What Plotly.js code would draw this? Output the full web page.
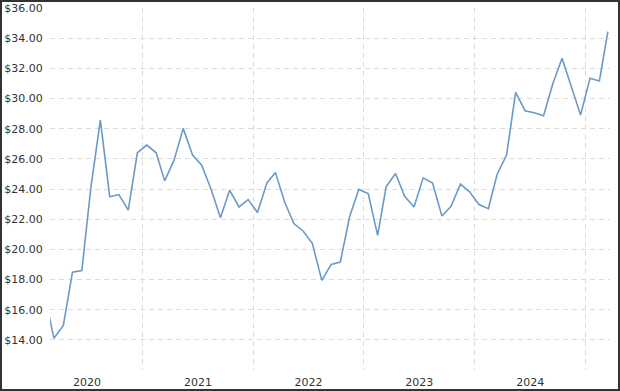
<!DOCTYPE html>
<html>
<head>
<meta charset="utf-8">
<script src="https://cdn.plot.ly/plotly-3.0.1.min.js"></script>
<style>
  html, body { margin: 0; padding: 0; background: #fff; }
  #wrap { position: relative; width: 620px; height: 391px; }
  #chart { width: 620px; height: 391px; }
  #frame { position: absolute; left: 0; top: 0; width: 620px; height: 391px; box-sizing: border-box; border: 2px solid #333333; pointer-events: none; }
</style>
</head>
<body>
<div id="wrap"><div id="chart"></div><div id="frame"></div></div>
<script>
// Monthly observations (mid-month)
const months = [
  '2020-02-15','2020-03-15','2020-04-15','2020-05-15','2020-06-15','2020-07-15','2020-08-15','2020-09-15','2020-10-15','2020-11-15','2020-12-15',
  '2021-01-15','2021-02-15','2021-03-15','2021-04-15','2021-05-15','2021-06-15','2021-07-15','2021-08-15','2021-09-15','2021-10-15','2021-11-15','2021-12-15',
  '2022-01-15','2022-02-15','2022-03-15','2022-04-15','2022-05-15','2022-06-15','2022-07-15','2022-08-15','2022-09-15','2022-10-15','2022-11-15','2022-12-15',
  '2023-01-15','2023-02-15','2023-03-15','2023-04-15','2023-05-15','2023-06-15','2023-07-15','2023-08-15','2023-09-15','2023-10-15','2023-11-15','2023-12-15',
  '2024-01-15','2024-02-15','2024-03-15','2024-04-15','2024-05-15','2024-06-15','2024-07-15','2024-08-15','2024-09-15','2024-10-15','2024-11-15','2024-12-15',
  '2025-01-15','2025-02-15','2025-03-15'
];
const prices = [
  16.8, 14.1, 14.95, 18.49, 18.6, 24.14, 28.57, 23.48, 23.63, 22.6, 26.40,
  26.91, 26.40, 24.54, 25.91, 28.02, 26.25, 25.58, 23.99, 22.1, 23.92, 22.81, 23.3,
  22.44, 24.4, 25.1, 23.1, 21.71, 21.2, 20.38, 17.94, 19.0, 19.16, 22.19, 23.97,
  23.7, 20.93, 24.14, 25.03, 23.52, 22.81, 24.74, 24.4, 22.21, 22.86, 24.32, 23.81,
  22.97, 22.7, 24.98, 26.25, 30.41, 29.19, 29.06, 28.86, 31.01, 32.67, 30.78, 28.9,
  31.34, 31.16, 34.44
];
const yTickVals = [12, 14, 16, 18, 20, 22, 24, 26, 28, 30, 32, 34, 36];
const yTickText = ['', '$14.00', '$16.00', '$18.00', '$20.00', '$22.00', '$24.00', '$26.00', '$28.00', '$30.00', '$32.00', '$34.00', '$36.00'];

const trace = {
  x: months,
  y: prices,
  type: 'scatter',
  mode: 'lines',
  line: { color: '#6a9bc8', width: 1.6 },
  hoverinfo: 'skip'
};

const layout = {
  width: 620,
  height: 391,
  margin: { l: 50, r: 10, t: 8, b: 21 },
  paper_bgcolor: '#ffffff',
  plot_bgcolor: '#ffffff',
  showlegend: false,
  font: { family: 'DejaVu Sans, Verdana, sans-serif', size: 11, color: '#333333' },
  xaxis: {
    type: 'date',
    range: ['2020-03-02', '2025-03-22'],
    tick0: '2020-01-01',
    dtick: 'M12',
    tickformat: '%Y',
    ticklabelmode: 'period',
    showgrid: true,
    gridcolor: '#dcdcdc',
    griddash: '5px,4px',
    gridwidth: 1,
    zeroline: false,
    showline: false,
    ticks: 'outside',
    ticklen: 2,
    tickcolor: 'rgba(0,0,0,0)',
    tickfont: { size: 11, color: '#333333' }
  },
  yaxis: {
    range: [12, 36],
    tickmode: 'array',
    tickvals: yTickVals,
    ticktext: yTickText,
    showgrid: true,
    gridcolor: '#dcdcdc',
    griddash: '5px,4px',
    gridwidth: 1,
    zeroline: false,
    showline: false,
    ticks: 'outside',
    ticklen: 4,
    tickcolor: 'rgba(0,0,0,0)',
    tickfont: { size: 11, color: '#333333' }
  }
};

Plotly.newPlot('chart', [trace], layout, { displayModeBar: false, staticPlot: true });
</script>
</body>
</html>
